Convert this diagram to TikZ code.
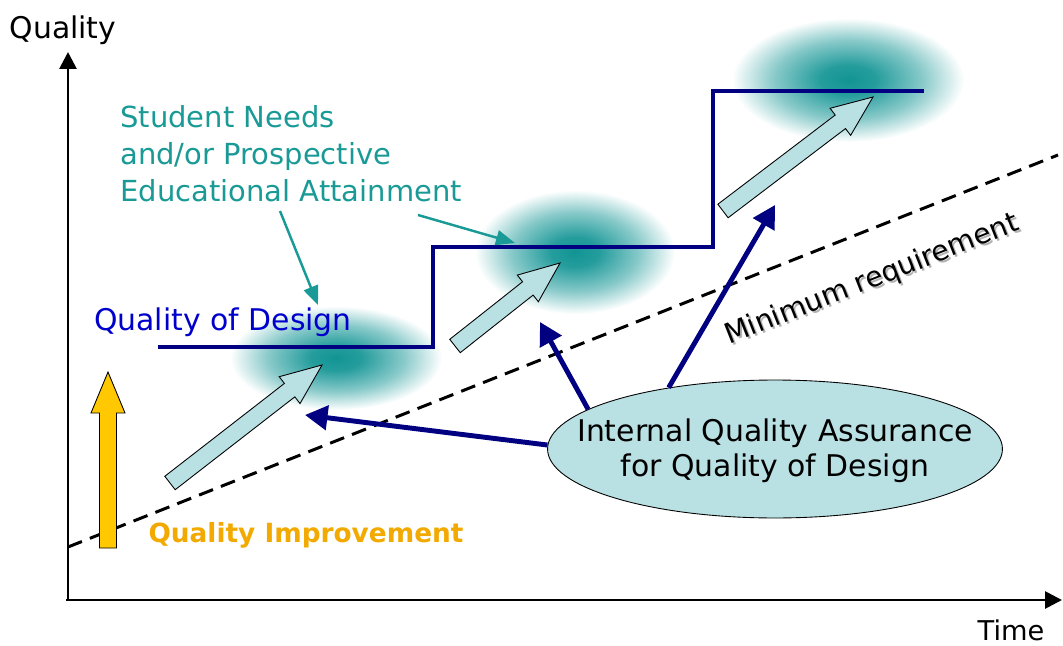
\documentclass[tikz,border=0pt]{standalone}
\usepackage{fontspec}
\setmainfont{DejaVu Sans}
\usetikzlibrary{calc}
\usetikzlibrary{positioning}
\usetikzlibrary{arrows.meta}
\usetikzlibrary{shapes.geometric}

\definecolor{stepnavy}{RGB}{0,0,128}
\definecolor{designblue}{RGB}{0,0,204}
\definecolor{needteal}{RGB}{25,154,150}
\definecolor{blobteal}{RGB}{18,148,148}
\definecolor{liftfill}{RGB}{185,224,227}
\definecolor{goldfill}{RGB}{255,200,0}
\definecolor{goldtext}{RGB}{242,169,0}

\pgfdeclareradialshading{blob}{\pgfpoint{0bp}{0bp}}{%
  color(0bp)=(blobteal); color(6bp)=(blobteal!92!white);
  color(16bp)=(blobteal!50!white); color(25bp)=(white); color(50bp)=(white)}

% block arrow from #2 (tail) to #3 (tip)
\newcommand{\blockarrow}[3][liftarrow]{%
  \coordinate (hb) at ($(#3)!0.82cm!(#2)$);
  \filldraw[#1] ($(#2)!0.17cm!-90:(#3)$) -- ($(hb)!0.17cm!-90:(#3)$)
    -- ($(hb)!0.34cm!-90:(#3)$) -- (#3) -- ($(hb)!0.34cm!90:(#3)$)
    -- ($(hb)!0.17cm!90:(#3)$) -- ($(#2)!0.17cm!90:(#3)$) -- cycle;}

\begin{document}
\begin{tikzpicture}[%
  >={Triangle[length=0.45cm,width=0.48cm]},
  x=0.02cm, y=-0.02cm,
  font=\fontsize{17}{20}\selectfont,
  axis/.style={line width=1.6pt, -{Triangle[length=0.34cm,width=0.34cm]}},
  stepline/.style={stepnavy, line width=2.4pt},
  minline/.style={line width=1.7pt, dash pattern=on 0.3cm off 0.17cm},
  liftarrow/.style={fill=liftfill, draw=black, line width=0.5pt},
  goldarrow/.style={fill=goldfill, draw=black, line width=0.5pt},
  iqaarrow/.style={stepnavy, line width=2.8pt, ->},
  needarrow/.style={needteal, line width=1.4pt,
    -{Triangle[length=0.38cm,width=0.3cm]}},
  iqa/.style={ellipse, draw=black, line width=0.5pt, fill=liftfill,
    minimum width=9.1cm, minimum height=2.76cm, inner sep=0pt},
  mintext/.style={rotate=21.5, font=\fontsize{16}{18}\selectfont}
]

  \useasboundingbox (0,0) rectangle (1063,646);

  \coordinate (o) at (68,600);
  \coordinate (ytop) at (68,52);
  \coordinate (xend) at (1062,600);

  % soft blobs round each level
  \shade[shading=blob] (336,358) ellipse (106 and 52);
  \shade[shading=blob] (575,252) ellipse (100 and 62);
  \shade[shading=blob] (848,80) ellipse (116 and 62);

  \draw[minline] (68,547) -- (1058,155);

  \draw[axis] (o) -- (ytop);
  \draw[axis] ([xshift=-1pt]o) -- (xend);

  \draw[stepline] (158,347) -- (433,347) -- (433,247) -- (713,247)
    -- (713,91) -- (924,91);

  \coordinate (lt1) at (170,483);
  \coordinate (lh1) at (322,365);
  \coordinate (lt2) at (455,346);
  \coordinate (lh2) at (560,263);
  \coordinate (lt3) at (723,211);
  \coordinate (lh3) at (873,97);
  \blockarrow{lt1}{lh1}
  \blockarrow{lt2}{lh2}
  \blockarrow{lt3}{lh3}

  \coordinate (gt) at (108,548);
  \coordinate (gh) at (108,372);
  \blockarrow[goldarrow]{gt}{gh}

  \node (yq) at (63,30) {Quality};
  \node[font=\fontsize{15.5}{18}\selectfont] (time) at (1011,630) {Time};

  \node[mintext, text=black!30] (minshadow) at (874,282) {Minimum requirement};
  \node[mintext] (minreq) at (872,280) {Minimum requirement};

  \node[text=designblue] (qod) at (223,322) {Quality of Design};
  \node[text=needteal, align=left, anchor=north west, inner sep=0pt,
    font=\fontsize{16.5}{21}\selectfont]
    (sn) at (120,105) {Student Needs\\and/or Prospective\\Educational Attainment};
  \node[text=goldtext, font=\bfseries\fontsize{15}{19}\selectfont] (qi) at (306,535) {Quality Improvement};

  \node[iqa] (iqa) at (775,449) {};
  \node[align=center] (iqatext) at (775,451) {Internal Quality Assurance\\for Quality of Design};

  \coordinate (qa1) at (305,415);
  \coordinate (qa2) at (540,322);
  \coordinate (qa3) at (775,205);
  \draw[iqaarrow] (iqa.179) -- (qa1);
  \draw[iqaarrow] (iqa.168) -- (qa2);
  \draw[iqaarrow] (iqa.150) -- (qa3);

  \coordinate (nf1) at (280,211);
  \coordinate (nf2) at (418,215);
  \coordinate (nt1) at (318,305);
  \coordinate (nt2) at (515,243);
  \draw[needarrow] (nf1) -- (nt1);
  \draw[needarrow] (nf2) -- (nt2);

\end{tikzpicture}
\end{document}
